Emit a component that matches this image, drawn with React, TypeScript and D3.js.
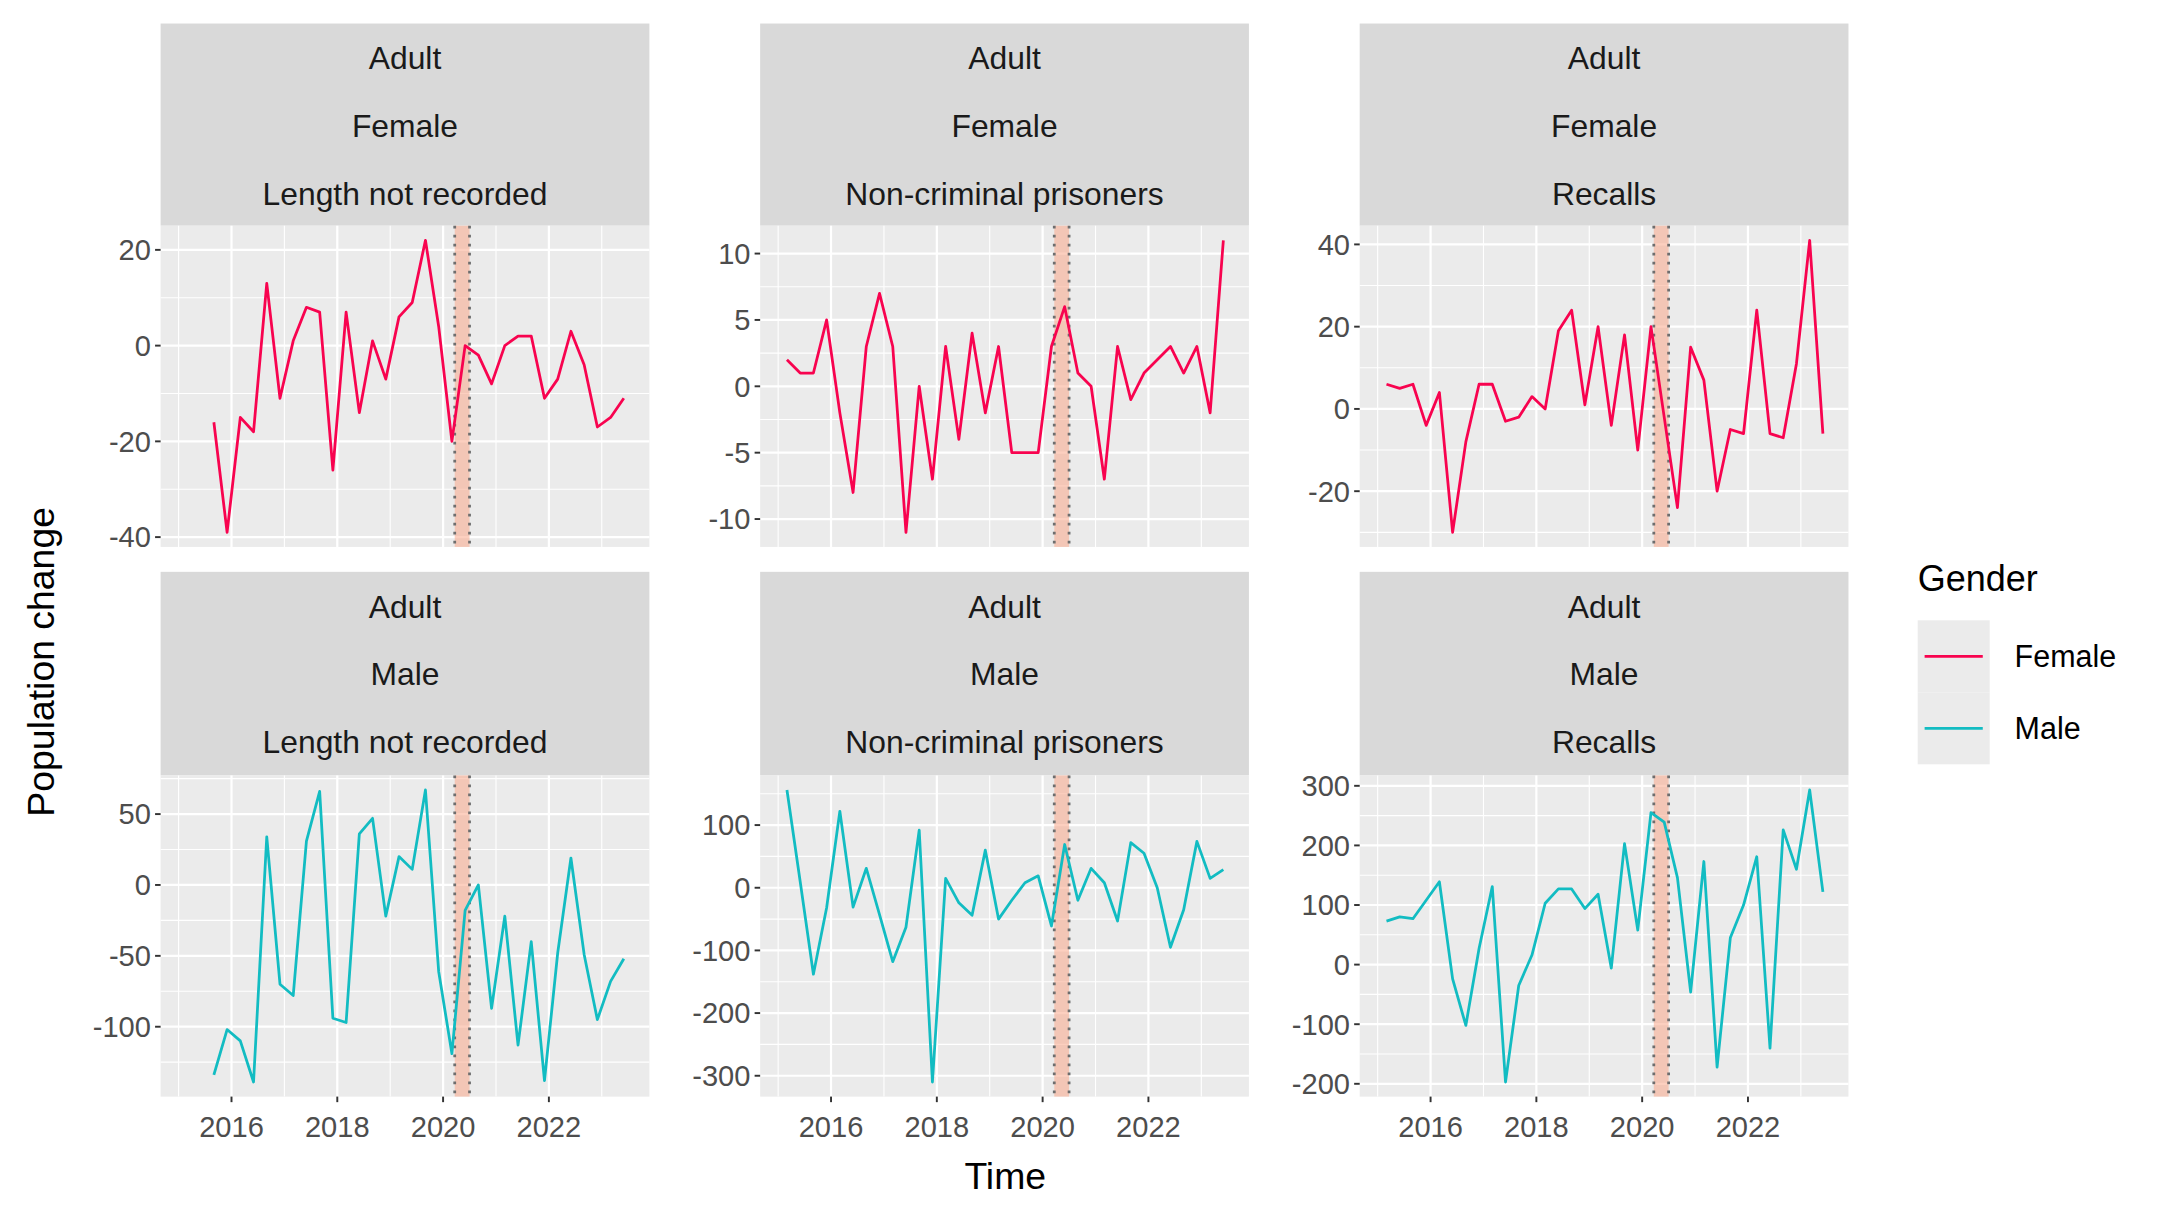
import React from "react";
import * as d3 from "d3";

const startYear = 2015 + 2 / 12;
const femaleLNR = [-16,-39,-15,-18,13,-11,1,8,7,-26,7,-14,1,-7,6,9,22,4,-20,0,-2,-8,0,2,2,-11,-7,3,-4,-17,-15,-11];
const femaleNCP = [2,1,1,5,-2,-8,3,7,3,-11,0,-7,3,-4,4,-2,3,-5,-5,-5,3,6,1,0,-7,3,-1,1,2,3,1,3,-2,11];
const femaleRec = [6,5,6,-4,4,-30,-8,6,6,-3,-2,3,0,19,24,1,20,-4,18,-10,20,-2,-24,15,7,-20,-5,-6,24,-6,-7,11,41,-6];
const maleLNR = [-134,-102,-110,-139,34,-70,-78,31,66,-94,-97,36,47,-22,20,11,67,-61,-119,-18,0,-87,-22,-113,-40,-138,-48,19,-49,-95,-68,-52];
const maleNCP = [156,10,-138,-32,122,-31,31,-43,-118,-63,92,-310,15,-24,-44,60,-50,-20,8,19,-61,69,-20,31,8,-53,72,55,0,-95,-35,74,15,29];
const maleRec = [73,80,77,108,139,-24,-102,27,131,-197,-35,16,103,127,127,94,118,-6,203,58,255,239,146,-46,173,-172,45,100,181,-140,226,160,293,122];
const xTicks = [2016, 2018, 2020, 2022];
const xMinor = [2015, 2017, 2019, 2021, 2023];
const xDomain = [2014.66, 2023.9];
const band = [2020.22, 2020.5];
const categories = ["Length not recorded", "Non-criminal prisoners", "Recalls"];
const genders = ["Female", "Male"];
const colors: Record<string, string> = { Female: "#F8034F", Male: "#12BCC2" };

const panels = [
  { g: "Female", c: 0, data: femaleLNR, offset: 2, ticks: [-40, -20, 0, 20] },
  { g: "Female", c: 1, data: femaleNCP, offset: 0, ticks: [-10, -5, 0, 5, 10] },
  { g: "Female", c: 2, data: femaleRec, offset: 0, ticks: [-20, 0, 20, 40] },
  { g: "Male", c: 0, data: maleLNR, offset: 2, ticks: [-100, -50, 0, 50] },
  { g: "Male", c: 1, data: maleNCP, offset: 0, ticks: [-300, -200, -100, 0, 100] },
  { g: "Male", c: 2, data: maleRec, offset: 0, ticks: [-200, -100, 0, 100, 200, 300] },
];

const colX = [116, 549, 982];
const pw = 353;
const rows = [{ sTop: 17, pTop: 163 }, { sTop: 413, pTop: 560 }];
const ph = 232;
const font = "Liberation Sans, Arial, sans-serif";

function Panel({ p, row }: any) {
  const x0 = colX[p.c];
  const { sTop, pTop } = rows[row];
  const x = d3.scaleLinear().domain(xDomain).range([x0, x0 + pw]);
  const ext = d3.extent(p.data as number[]) as [number, number];
  const pad = (ext[1] - ext[0]) * 0.05;
  const y = d3.scaleLinear().domain([ext[0] - pad, ext[1] + pad]).range([pTop + ph, pTop]);
  const step = p.ticks[1] - p.ticks[0];
  const minor = d3.range(p.ticks[0] - step / 2, ext[1] + pad, step).filter((v) => y(v) >= pTop && y(v) <= pTop + ph);
  const pts = (p.data as number[]).map((v, i) => [startYear + (i + p.offset) * 0.25, v] as [number, number]);
  const line = d3.line<[number, number]>().x((d) => x(d[0])).y((d) => y(d[1]));
  return (
    <g>
      <rect x={x0} y={sTop} width={pw} height={pTop - sTop} fill="#D9D9D9" />
      {["Adult", p.g, categories[p.c]].map((t, i) => (
        <text key={i} x={x0 + pw / 2} y={sTop + 33 + i * 49} textAnchor="middle" fontSize={23} fill="#1A1A1A" fontFamily={font}>{t}</text>
      ))}
      <rect x={x0} y={pTop} width={pw} height={ph} fill="#EBEBEB" />
      {minor.map((v) => <line key={"ym" + v} x1={x0} x2={x0 + pw} y1={y(v)} y2={y(v)} stroke="#fff" strokeWidth={0.8} />)}
      {xMinor.map((v) => <line key={"xm" + v} x1={x(v)} x2={x(v)} y1={pTop} y2={pTop + ph} stroke="#fff" strokeWidth={0.8} />)}
      {p.ticks.map((v: number) => <line key={"y" + v} x1={x0} x2={x0 + pw} y1={y(v)} y2={y(v)} stroke="#fff" strokeWidth={1.6} />)}
      {xTicks.map((v) => <line key={"x" + v} x1={x(v)} x2={x(v)} y1={pTop} y2={pTop + ph} stroke="#fff" strokeWidth={1.6} />)}
      <rect x={x(band[0])} y={pTop} width={x(band[1]) - x(band[0])} height={ph} fill="#F9A88A" opacity={0.55} />
      {band.map((v) => <line key={"b" + v} x1={x(v)} x2={x(v)} y1={pTop} y2={pTop + ph} stroke="#6E6E6E" strokeWidth={2} strokeDasharray="2,4.5" />)}
      <path d={line(pts) || ""} fill="none" stroke={colors[p.g]} strokeWidth={2} strokeLinejoin="round" />
      {p.ticks.map((v: number) => (
        <g key={"t" + v}>
          <line x1={x0 - 4} x2={x0} y1={y(v)} y2={y(v)} stroke="#333" strokeWidth={1.4} />
          <text x={x0 - 7} y={y(v) + 7.5} textAnchor="end" fontSize={21} fill="#4D4D4D" fontFamily={font}>{v}</text>
        </g>
      ))}
      {row === 1 && xTicks.map((v) => (
        <g key={"xt" + v}>
          <line x1={x(v)} x2={x(v)} y1={pTop + ph} y2={pTop + ph + 4} stroke="#333" strokeWidth={1.4} />
          <text x={x(v)} y={pTop + ph + 29} textAnchor="middle" fontSize={21} fill="#4D4D4D" fontFamily={font}>{v}</text>
        </g>
      ))}
    </g>
  );
}

export default function App() {
  return (
    <svg width={2160} height={1215} viewBox="0 0 1560 877.5" style={{ position: "absolute", left: 0, top: 0, background: "#fff" }}>
      <rect width={1560} height={877.5} fill="#fff" />
      {panels.map((p, i) => <Panel key={i} p={p} row={p.g === "Female" ? 0 : 1} />)}
      <text x={726} y={859} textAnchor="middle" fontSize={27} fill="#000" fontFamily={font}>Time</text>
      <text transform="translate(39,478) rotate(-90)" textAnchor="middle" fontSize={27} fill="#000" fontFamily={font}>Population change</text>
      <text x={1385} y={427} fontSize={26} fill="#000" fontFamily={font}>Gender</text>
      {genders.map((g, i) => (
        <g key={g}>
          <rect x={1385} y={448 + i * 52} width={52} height={52} fill="#EBEBEB" />
          <line x1={1390} x2={1432} y1={474 + i * 52} y2={474 + i * 52} stroke={colors[g]} strokeWidth={2} />
          <text x={1455} y={482 + i * 52} fontSize={22} fill="#000" fontFamily={font}>{g}</text>
        </g>
      ))}
    </svg>
  );
}
